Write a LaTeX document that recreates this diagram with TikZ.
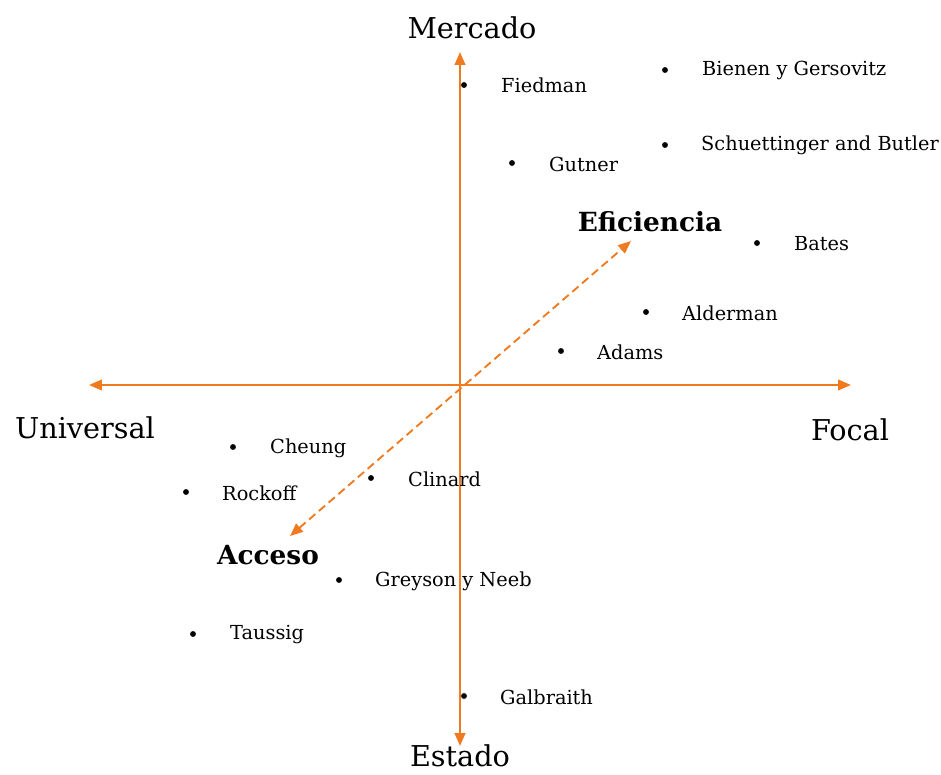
\documentclass[tikz,border=0pt]{standalone}
\usepackage{fontspec}
\setmainfont{DejaVu Serif}
\usetikzlibrary{arrows.meta}
\definecolor{naranja}{HTML}{F07A1E}
\tikzset{
  punta/.tip={Triangle[length=11pt,width=9pt]},
  eje/.style={draw=naranja, line width=1.8pt, -punta},
  punto/.style={circle, fill=black, inner sep=0pt, minimum size=5pt},
  autor/.style={anchor=west, inner sep=0pt, font=\fontsize{16.5}{0}\selectfont},
  polo/.style={inner sep=0pt, font=\fontsize{24.5}{0}\selectfont},
  enfoque/.style={inner sep=0pt, font=\bfseries\fontsize{22.5}{0}\selectfont}
}
\begin{document}
\begin{tikzpicture}[x=0.03cm, y=-0.03cm]
	\useasboundingbox (0,0) rectangle (941,774);

	% ejes
	\coordinate (centro) at (460,385);
	\coordinate (arriba) at (460,52);
	\coordinate (abajo) at (460,746);
	\coordinate (izq) at (89,385);
	\coordinate (der) at (851,385);
	\draw[eje] (centro) -- (arriba);
	\draw[eje] (centro) -- (abajo);
	\draw[eje] (centro) -- (izq);
	\draw[eje] (centro) -- (der);

	\node[polo] (mercado) at (472,28) {Mercado};
	\node[polo] (estado) at (460,756) {Estado};
	\node[polo] (universal) at (85,428) {Universal};
	\node[polo] (focal) at (850,430) {Focal};

	% enfoques
	\node[enfoque] (eficiencia) at (650,222) {Eficiencia};
	\node[enfoque] (acceso) at (268,555) {Acceso};
	\coordinate (efi) at (631,241);
	\coordinate (acc) at (290,536);
	\draw[eje, line width=1.6pt, dash pattern=on 7pt off 4pt, punta-punta] (acc) -- (efi);

	% autores
	\node[punto] (p1) at (464,85) {};   \node[autor] at (501,85) {Fiedman};
	\node[punto] (p2) at (665,70) {};   \node[autor] at (702,70) {Bienen y Gersovitz};
	\node[punto] (p3) at (512,163) {};  \node[autor] at (549,164) {Gutner};
	\node[punto] (p4) at (665,145) {};  \node[autor] at (701,145) {Schuettinger and Butler};
	\node[punto] (p5) at (757,243) {};  \node[autor] at (794,244) {Bates};
	\node[punto] (p6) at (646,312) {};  \node[autor] at (682,313) {Alderman};
	\node[punto] (p7) at (561,351) {};  \node[autor] at (597,352) {Adams};
	\node[punto] (p8) at (233,447) {};  \node[autor] at (270,448) {Cheung};
	\node[punto] (p9) at (371,478) {};  \node[autor] at (408,479) {Clinard};
	\node[punto] (p10) at (186,492) {}; \node[autor] at (222,493) {Rockoff};
	\node[punto] (p11) at (339,580) {}; \node[autor] at (375,581) {Greyson y Neeb};
	\node[punto] (p12) at (193,634) {}; \node[autor] at (230,635) {Taussig};
	\node[punto] (p13) at (464,696) {}; \node[autor] at (500,697) {Galbraith};
\end{tikzpicture}
\end{document}
